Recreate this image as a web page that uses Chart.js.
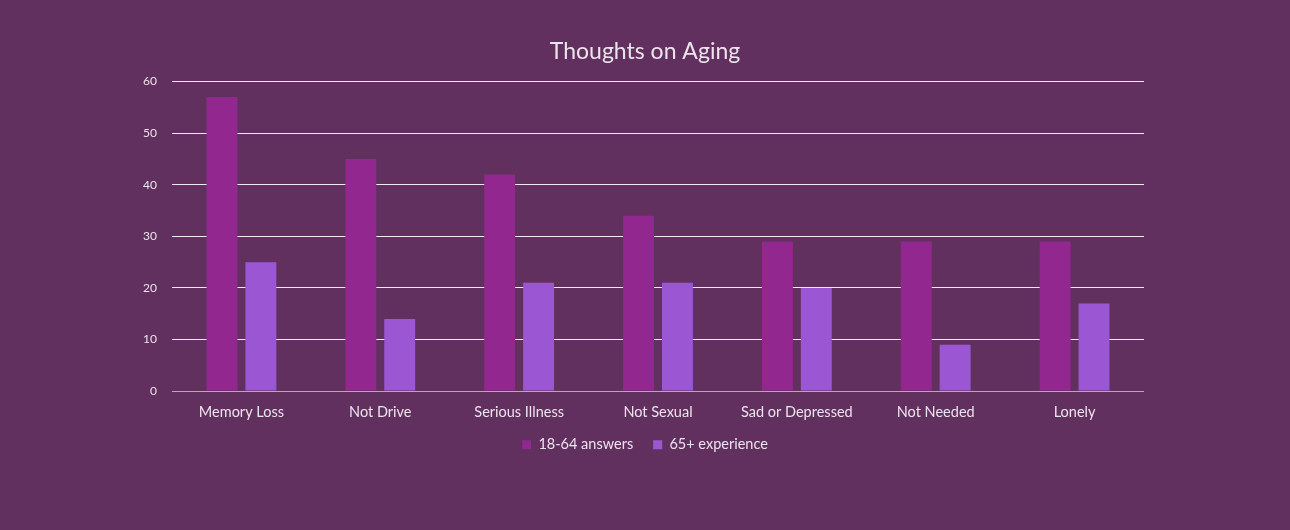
<!DOCTYPE html>
<html>
<head>
<meta charset="utf-8">
<script src="https://cdn.jsdelivr.net/npm/chart.js@4"></script>
<style>
  html, body { margin: 0; padding: 0; background: #62305f; }
  #wrap { width: 1290px; height: 530px; }
</style>
</head>
<body>
<div id="wrap"><canvas id="myChart"></canvas></div>
<script>
// data
const categories = ["Memory Loss", "Not Drive", "Serious Illness", "Not Sexual", "Sad or Depressed", "Not Needed", "Lonely"];
const youngAnswers = [57, 45, 42, 34, 29, 29, 29];
const olderExperience = [25, 14, 21, 21, 20, 9, 17];
const seriesNames = ["18-64 answers", "65+ experience"];
const yTicks = [0, 10, 20, 30, 40, 50, 60];

const textColor = "#ece4ec";
const fontFamily = "Lato, 'Open Sans', sans-serif";

const ctx = document.getElementById("myChart");

// title and legend are centred on the whole canvas, legend sits close to the labels
const boxNudge = {
  id: "boxNudge",
  afterLayout(chart) {
    const shiftX = 23;
    if (chart.legend) {
      chart.legend.top -= 9;
      chart.legend.bottom -= 9;
      chart.legend.left += shiftX;
      chart.legend.right += shiftX;
    }
    if (chart.titleBlock) {
      chart.titleBlock.left += shiftX;
      chart.titleBlock.right += shiftX;
    }
  },
};

new Chart(ctx, {
  type: "bar",
  data: {
    labels: categories,
    datasets: [
      {
        label: seriesNames[0],
        data: youngAnswers,
        backgroundColor: "#92278f",
        categoryPercentage: 0.56,
        barPercentage: 0.795,
      },
      {
        label: seriesNames[1],
        data: olderExperience,
        backgroundColor: "#9b57d3",
        categoryPercentage: 0.56,
        barPercentage: 0.795,
      },
    ],
  },
  options: {
    responsive: true,
    maintainAspectRatio: false,
    animation: false,
    layout: {
      padding: { left: 100, right: 146, top: 30, bottom: 59 },
    },
    plugins: {
      title: {
        display: true,
        text: "Thoughts on Aging",
        color: textColor,
        font: { family: fontFamily, size: 23, weight: "normal" },
        padding: { top: 8, bottom: 16 },
      },
      legend: {
        position: "bottom",
        labels: {
          color: textColor,
          font: { family: fontFamily, size: 14.5 },
          boxWidth: 9,
          boxHeight: 9,
          padding: 20,
        },
      },
      tooltip: { enabled: false },
    },
    scales: {
      x: {
        grid: { display: false },
        border: { display: false },
        ticks: {
          color: textColor,
          font: { family: fontFamily, size: 14.5 },
          padding: 5,
        },
      },
      y: {
        min: 0,
        max: 60,
        afterFit: (scale) => {
          scale.width = 72;
        },
        afterBuildTicks: (scale) => {
          scale.ticks = yTicks.map((v) => ({ value: v }));
        },
        grid: {
          color: (c) => (c.tick && c.tick.value === 0 ? "#b9a6b8" : "#f2eaf2"),
          lineWidth: 1,
          drawTicks: false,
        },
        border: { display: false },
        ticks: {
          color: textColor,
          font: { family: fontFamily, size: 12 },
          padding: 15,
        },
      },
    },
  },
  plugins: [boxNudge],
});
</script>
</body>
</html>
